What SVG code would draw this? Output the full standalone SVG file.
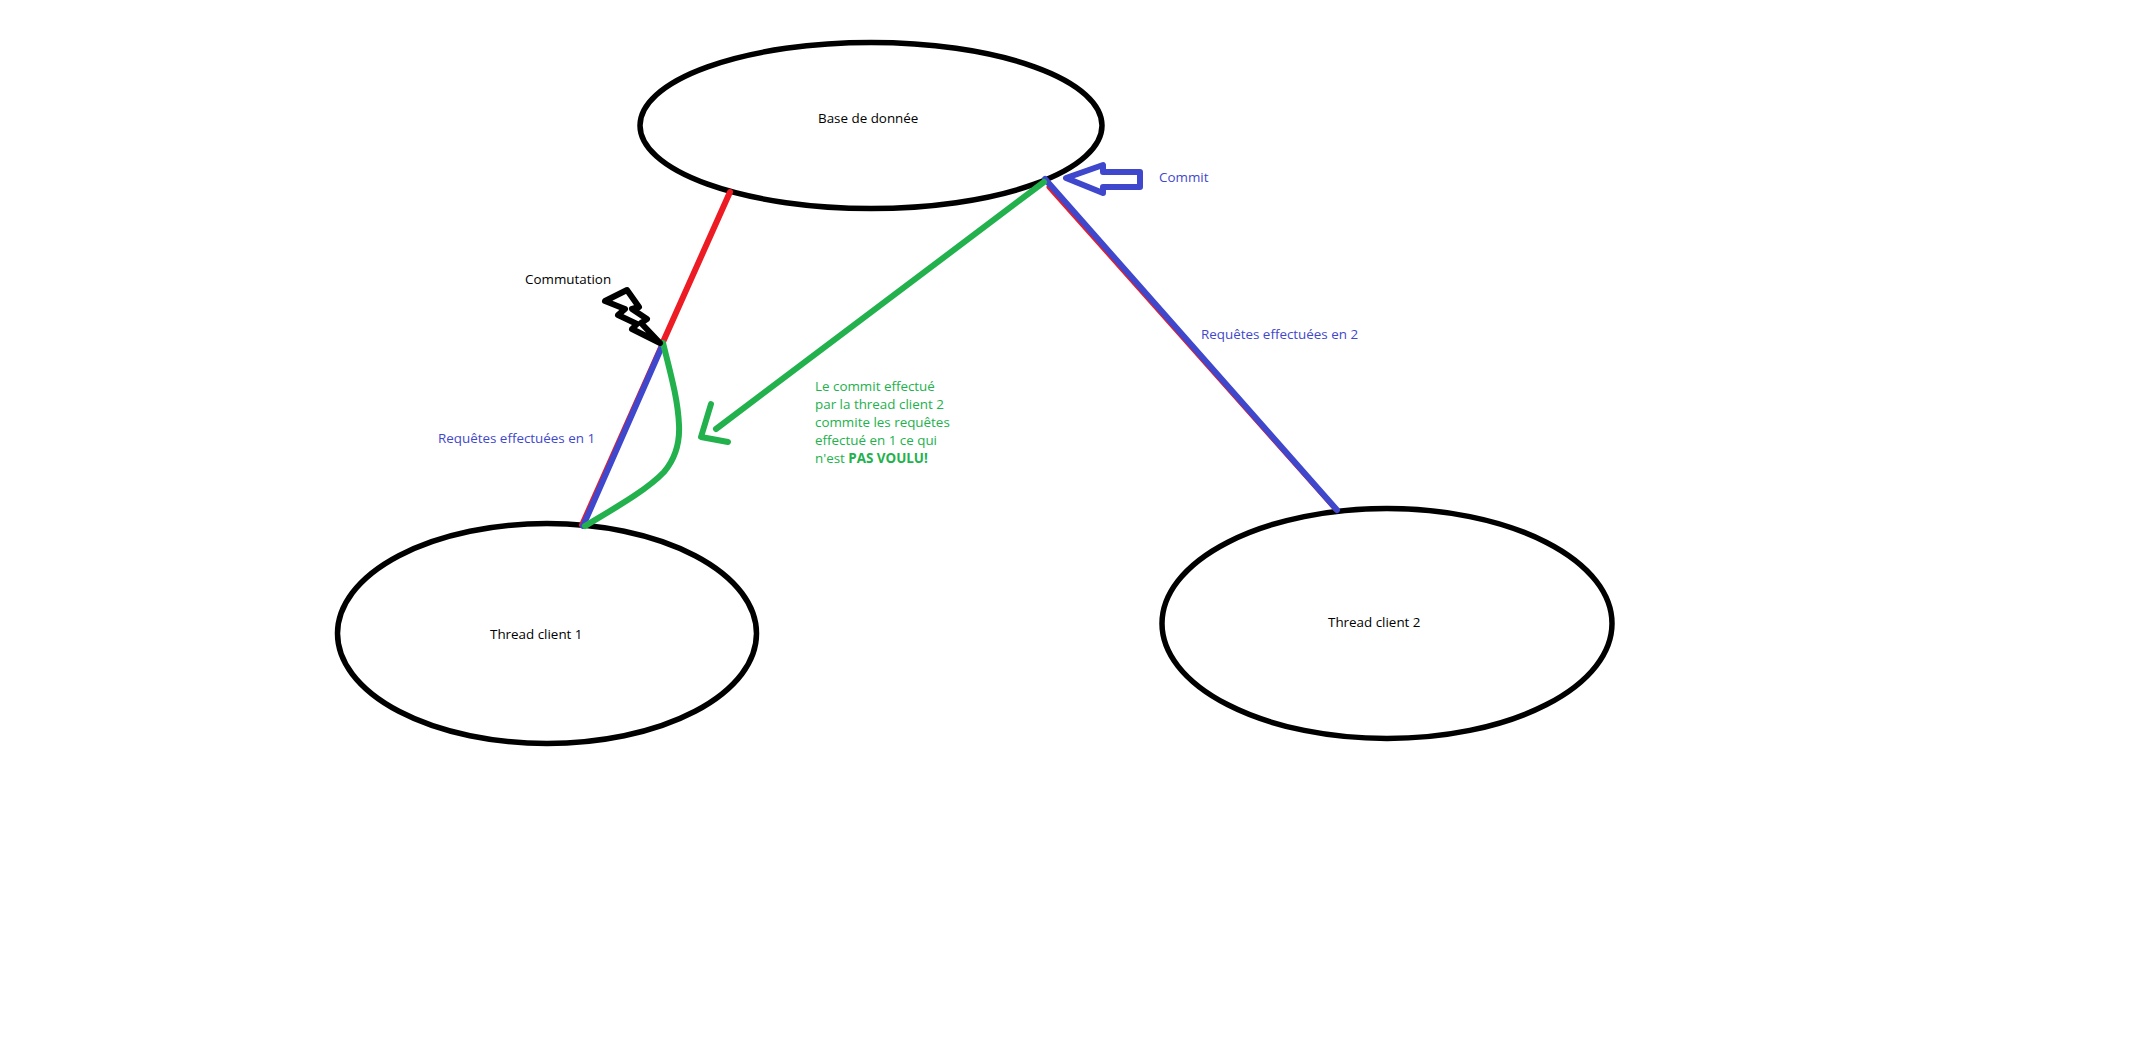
<svg xmlns="http://www.w3.org/2000/svg" width="2145" height="1046" viewBox="0 0 2145 1046">
<style>
text{font-family:"Open Sans","Noto Sans","Liberation Sans",sans-serif;font-size:13.4px}
.node{fill:#fff;stroke:#000;stroke-width:5.500}
.k{fill:#000}.b{fill:#3f48cc}.g{fill:#22b14c}
.ln{fill:none;stroke-width:6;stroke-linejoin:round;stroke-linecap:round}
.red{stroke:#ed1c24}.blue{stroke:#3f48cc}.green{stroke:#22b14c}.black{stroke:#000}
.thin{stroke-width:5}
</style>
<rect width="2145" height="1046" fill="#fff"/>
<g id="node-db"><ellipse class="node" cx="871" cy="125.500" rx="231" ry="83"/><text class="k" x="818" y="123">Base de donnée</text></g>
<g id="node-client1"><ellipse class="node" cx="547" cy="633.500" rx="209.500" ry="110"/><text class="k" x="490" y="639">Thread client 1</text></g>
<g id="node-client2"><ellipse class="node" cx="1387" cy="623.500" rx="225" ry="115"/><text class="k" x="1328" y="627">Thread client 2</text></g>
<g id="connectors">
<path class="ln red" d="M730 192L663 342"/>
<path class="ln red thin" d="M662.500 343L581.500 525"/>
<path class="ln blue" d="M663 344L583 526"/>
<path class="ln green" d="M663 343C671 375 678 400 679 425C680 445 675 459 664 472C647 490 615 508 585 526"/>
<path class="ln red thin" d="M1049 187L1335.500 509"/>
<path class="ln blue" d="M1045 179L1337 510"/>
<path class="ln green" d="M1044 182L716 429M711 404L701 437L728 442"/>
</g>
<g id="arrow-commit"><path class="ln blue" d="M1066 178L1103 165V172H1140V187H1103V193Z"/><text class="b" x="1159" y="182">Commit</text></g>
<g id="bolt-commutation"><path class="ln black" d="M605 301L627 290L639 307L632 309L647 319L641 323L660 343L632 329L637 324L618 315L625 309Z"/><text class="k" x="525" y="284">Commutation</text></g>
<g id="labels">
<text class="b" x="438" y="443">Requêtes effectuées en 1</text>
<text class="b" x="1201" y="339">Requêtes effectuées en 2</text>
<g class="g"><text x="815" y="391">Le commit effectué</text><text x="815" y="409">par la thread client 2</text><text x="815" y="427">commite les requêtes</text><text x="815" y="445">effectué en 1 ce qui</text><text x="815" y="463">n'est <tspan font-weight="700">PAS VOULU!</tspan></text></g>
</g>
</svg>
